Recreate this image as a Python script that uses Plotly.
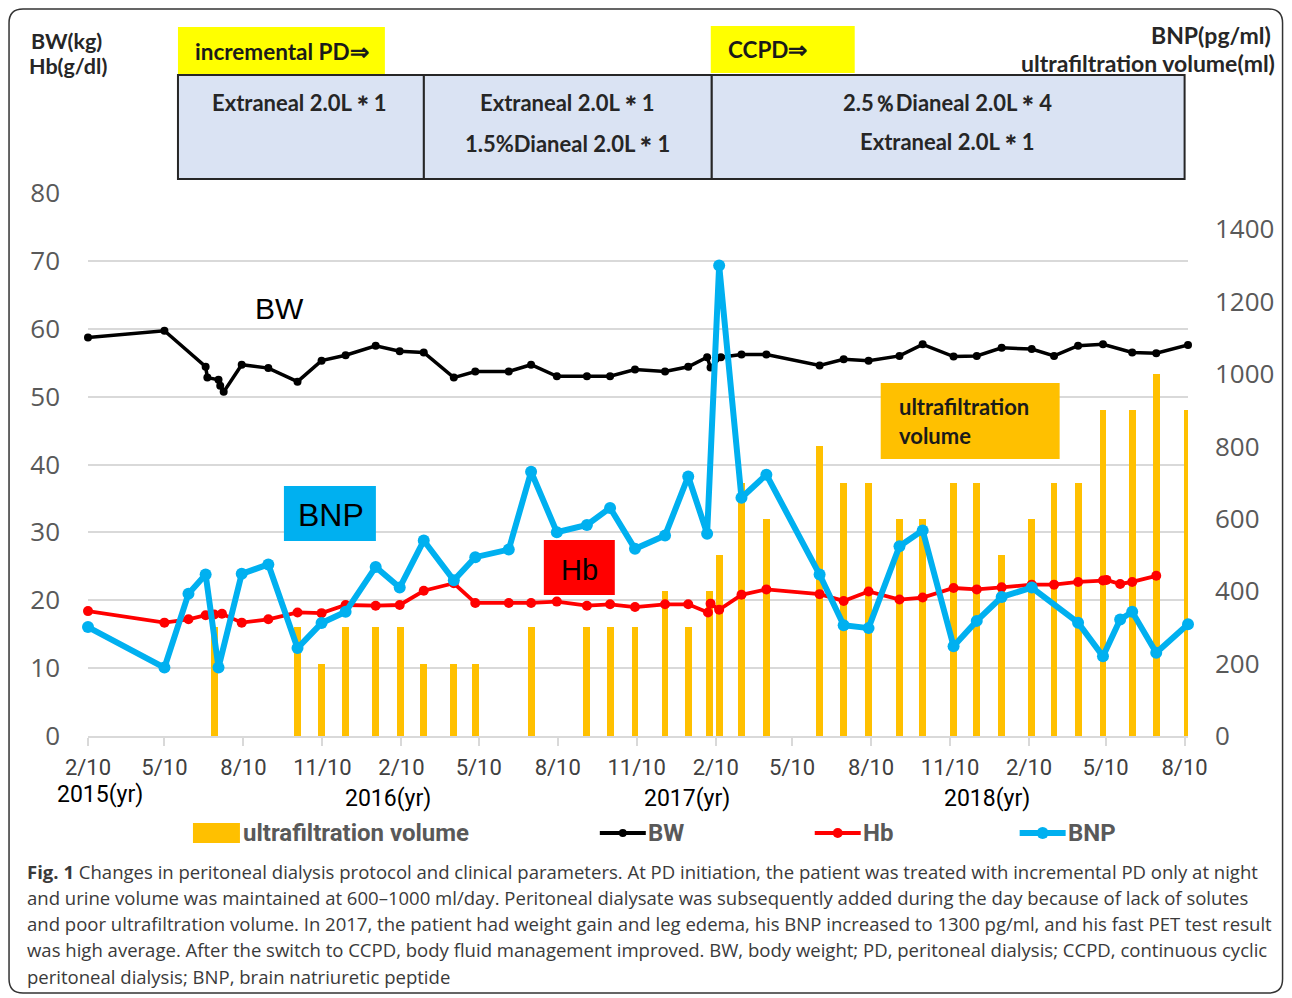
import plotly.graph_objects as go

# ---------------- data ----------------
bw_dates = ["2015-02-10","2015-05-10","2015-06-27","2015-06-29","2015-07-12","2015-07-14","2015-07-18",
            "2015-08-08","2015-09-08","2015-10-12","2015-11-09","2015-12-07","2016-01-11","2016-02-08",
            "2016-03-07","2016-04-11","2016-05-06","2016-06-14","2016-07-10","2016-08-09","2016-09-13",
            "2016-10-10","2016-11-08","2016-12-13","2017-01-09","2017-01-31","2017-02-04","2017-02-16",
            "2017-03-12","2017-04-10","2017-06-11","2017-07-09","2017-08-07","2017-09-12","2017-10-09",
            "2017-11-14","2017-12-11","2018-01-09","2018-02-13","2018-03-11","2018-04-08","2018-05-07",
            "2018-06-10","2018-07-08","2018-08-14"]
bw_values = [58.7, 59.7, 54.4, 52.8, 52.5, 51.6, 50.7, 54.7, 54.2, 52.2, 55.3, 56.1, 57.5, 56.7, 56.5,
             52.8, 53.7, 53.7, 54.7, 53.0, 53.0, 53.0, 54.0, 53.7, 54.4, 55.8, 54.3, 55.8, 56.2, 56.2,
             54.6, 55.5, 55.3, 56.0, 57.7, 55.9, 56.0, 57.2, 57.0, 56.0, 57.5, 57.7, 56.5, 56.4, 57.6]

hb_dates = ["2015-02-10","2015-05-10","2015-06-07","2015-06-27","2015-07-07","2015-07-16","2015-08-08",
            "2015-09-08","2015-10-12","2015-11-09","2015-12-07","2016-01-11","2016-02-08","2016-03-07",
            "2016-04-11","2016-05-06","2016-06-14","2016-07-10","2016-08-09","2016-09-13","2016-10-10",
            "2016-11-08","2016-12-13","2017-01-09","2017-02-01","2017-02-04","2017-02-14","2017-03-12",
            "2017-04-10","2017-06-11","2017-07-09","2017-08-07","2017-09-12","2017-10-09","2017-11-14",
            "2017-12-11","2018-01-09","2018-02-13","2018-03-11","2018-04-08","2018-05-07","2018-05-11",
            "2018-05-27","2018-06-10","2018-07-08"]
hb_values = [18.4, 16.7, 17.2, 17.8, 17.9, 18.0, 16.7, 17.2, 18.2, 18.1, 19.3, 19.2, 19.3, 21.4, 22.5,
             19.6, 19.6, 19.6, 19.8, 19.2, 19.4, 19.0, 19.4, 19.4, 18.2, 19.5, 18.6, 20.8, 21.6, 20.9,
             19.9, 21.3, 20.1, 20.4, 21.8, 21.6, 21.9, 22.3, 22.3, 22.7, 22.9, 23.0, 22.4, 22.7, 23.6]

bnp_dates = ["2015-02-10","2015-05-10","2015-06-07","2015-06-27","2015-07-12","2015-08-08","2015-09-08",
             "2015-10-12","2015-11-09","2015-12-07","2016-01-11","2016-02-08","2016-03-07","2016-04-11",
             "2016-05-06","2016-06-14","2016-07-10","2016-08-09","2016-09-13","2016-10-10","2016-11-08",
             "2016-12-13","2017-01-09","2017-01-31","2017-02-14","2017-03-12","2017-04-10","2017-06-11",
             "2017-07-09","2017-08-07","2017-09-12","2017-10-09","2017-11-14","2017-12-11","2018-01-09",
             "2018-02-13","2018-04-08","2018-05-07","2018-05-27","2018-06-10","2018-07-08","2018-08-14"]
bnp_values = [301, 189, 393, 446, 189, 448, 474, 243, 312, 343, 467, 410, 540, 430, 494, 515, 730, 563,
              583, 630, 517, 554, 717, 559, 1300, 658, 722, 446, 306, 298, 524, 568, 248, 318, 384, 410,
              313, 220, 322, 343, 230, 309]

uf_dates = ["2015-07-07","2015-10-12","2015-11-09","2015-12-07","2016-01-11","2016-02-09","2016-03-07",
            "2016-04-11","2016-05-06","2016-07-10","2016-09-13","2016-10-10","2016-11-08","2016-12-13",
            "2017-01-09","2017-02-03","2017-02-14","2017-03-12","2017-04-10","2017-06-11","2017-07-09",
            "2017-08-07","2017-09-12","2017-10-09","2017-11-14","2017-12-11","2018-01-09","2018-02-13",
            "2018-03-11","2018-04-08","2018-05-07","2018-06-10","2018-07-08","2018-08-13"]
uf_values = [300, 300, 200, 300, 300, 300, 200, 200, 200, 300, 300, 300, 300, 400, 300, 400, 500, 700,
             600, 800, 700, 700, 600, 600, 700, 700, 500, 600, 700, 700, 900, 900, 1000, 900]

tick_dates = ["2015-02-10","2015-05-10","2015-08-10","2015-11-10","2016-02-10","2016-05-10","2016-08-10",
              "2016-11-10","2017-02-10","2017-05-10","2017-08-10","2017-11-10","2018-02-10","2018-05-10",
              "2018-08-10"]
tick_labels = ["2/10","5/10","8/10","11/10","2/10","5/10","8/10","11/10","2/10","5/10","8/10","11/10",
               "2/10","5/10","8/10"]
year_labels = ["2015(yr)", "2016(yr)", "2017(yr)", "2018(yr)"]

caption_lines = [
    "<b>Fig. 1</b> Changes in peritoneal dialysis protocol and clinical parameters. At PD initiation, the patient was treated with incremental PD only at night",
    "and urine volume was maintained at 600–1000 ml/day. Peritoneal dialysate was subsequently added during the day because of lack of solutes",
    "and poor ultrafiltration volume. In 2017, the patient had weight gain and leg edema, his BNP increased to 1300 pg/ml, and his fast PET test result",
    "was high average. After the switch to CCPD, body fluid management improved. BW, body weight; PD, peritoneal dialysis; CCPD, continuous cyclic",
    "peritoneal dialysis; BNP, brain natriuretic peptide",
]

# ---------------- geometry helpers (layout only) ----------------
W, H = 1292, 998
PL, PR, PT, PB = 88, 1188.4, 193, 736


def px(x):
    return (x - PL) / (PR - PL)


def py(y):
    return (PB - y) / (PB - PT)


BLUE = "#00b0f0"
RED = "#ff0000"
ORANGE = "#ffc000"
GRAY_T = "#595959"
NARROW = "Roboto, sans-serif"
BOLDF = "Lato, Open Sans, sans-serif"

fig = go.Figure()

fig.add_trace(go.Bar(x=uf_dates, y=uf_values, name="ultrafiltration volume", marker_color=ORANGE,
                     marker_line_width=0, width=8 * 86400000, yaxis="y", cliponaxis=False))
fig.add_trace(go.Scatter(x=bw_dates, y=bw_values, name="BW", mode="lines+markers",
                         line=dict(color="black", width=3.5), marker=dict(color="black", size=8),
                         yaxis="y2", cliponaxis=False))
fig.add_trace(go.Scatter(x=hb_dates, y=hb_values, name="Hb", mode="lines+markers",
                         line=dict(color=RED, width=3.8), marker=dict(color=RED, size=10),
                         yaxis="y2", cliponaxis=False))
fig.add_trace(go.Scatter(x=bnp_dates, y=bnp_values, name="BNP", mode="lines+markers",
                         line=dict(color=BLUE, width=6), marker=dict(color=BLUE, size=12),
                         yaxis="y3", cliponaxis=False))

shapes = []
annotations = []


def rect(x0, y0, x1, y1, fill, line_color=None, lw=0):
    shapes.append(dict(type="rect", xref="paper", yref="paper", x0=px(x0), x1=px(x1), y0=py(y1), y1=py(y0),
                       fillcolor=fill, line=dict(color=line_color or fill, width=lw), layer="above"))


def text(x, y, s, size, color="black", family=BOLDF, xanchor="center", weight="normal"):
    annotations.append(dict(xref="paper", yref="paper", x=px(x), y=py(y), text=s, showarrow=False,
                            xanchor=xanchor, yanchor="middle",
                            font=dict(size=size, color=color, family=family, weight=weight)))


# outer rounded border
r = 14
x0b, y0b, x1b, y1b = 9, 9, 1283, 993
path = (f"M {px(x0b + r)},{py(y0b)} L {px(x1b - r)},{py(y0b)} Q {px(x1b)},{py(y0b)} {px(x1b)},{py(y0b + r)} "
        f"L {px(x1b)},{py(y1b - r)} Q {px(x1b)},{py(y1b)} {px(x1b - r)},{py(y1b)} "
        f"L {px(x0b + r)},{py(y1b)} Q {px(x0b)},{py(y1b)} {px(x0b)},{py(y1b - r)} "
        f"L {px(x0b)},{py(y0b + r)} Q {px(x0b)},{py(y0b)} {px(x0b + r)},{py(y0b)} Z")
shapes.append(dict(type="path", xref="paper", yref="paper", path=path, line=dict(color="#333333", width=1.5)))

# protocol boxes
rect(178, 27, 385, 75, "#ffff00")
rect(711, 26, 855, 73, "#ffff00")
for a, b in [(178, 424), (424, 712), (712, 1185)]:
    rect(a, 75, b, 179, "#dae3f3", "#262626", 2)
text(193, 51, "incremental PD⇒", 22.5, "#1a1a1a", xanchor="left", weight="bold")
text(726, 49, "CCPD⇒", 22.5, "#1a1a1a", xanchor="left", weight="bold")
text(300, 103, "Extraneal 2.0L＊1", 22, "#262626", weight="bold")
text(568, 103, "Extraneal 2.0L＊1", 22, "#262626", weight="bold")
text(568, 143, "1.5%Dianeal 2.0L＊1", 22, "#262626", weight="bold")
text(948, 102, "2.5％Dianeal 2.0L＊4", 22, "#262626", weight="bold")
text(948, 141, "Extraneal 2.0L＊1", 22, "#262626", weight="bold")

# axis titles
text(29, 41, "BW(kg)", 21.5, "#262626", xanchor="left", weight="bold")
text(27, 66, "Hb(g/dl)", 21.5, "#262626", xanchor="left", weight="bold")
annotations.append(dict(xref="paper", yref="paper", x=px(1273), y=py(35), text="BNP(pg/ml)", showarrow=False,
                        xanchor="right", yanchor="middle", font=dict(size=23, color="#262626", family=BOLDF, weight="bold")))
annotations.append(dict(xref="paper", yref="paper", x=px(1277), y=py(63), text="ultrafiltration volume(ml)",
                        showarrow=False, xanchor="right", yanchor="middle",
                        font=dict(size=23, color="#262626", family=BOLDF, weight="bold")))

# in-plot labels
text(280, 308, "BW", 30, "black", family="Liberation Sans, Arial, sans-serif")
rect(284, 486, 376, 541, BLUE)
text(331, 515, "BNP", 32, "black", family="Liberation Sans, Arial, sans-serif")
rect(544, 540, 615, 595, RED)
text(580, 570, "Hb", 29, "black", family="Liberation Sans, Arial, sans-serif")
rect(881, 383, 1060, 459, ORANGE)
text(897, 406, "ultrafiltration", 22, "#1a1a1a", xanchor="left", weight="bold")
text(897, 435, "volume", 22, "#1a1a1a", xanchor="left", weight="bold")

# year labels
for (xx, yy), s in zip([(100, 794), (388, 798), (687, 798), (987, 798)], year_labels):
    text(xx, yy, s, 23, "black", family=NARROW)

# manual legend
rect(193, 823, 240, 843, ORANGE)
text(241, 833, "ultrafiltration volume", 24, GRAY_T, family=NARROW, xanchor="left", weight="bold")
for (lx, col, lw, mr, lab) in [(600, "black", 4, 4, "BW"), (815, RED, 4, 5, "Hb"), (1020, BLUE, 6, 6, "BNP")]:
    shapes.append(dict(type="line", xref="paper", yref="paper", x0=px(lx), x1=px(lx + 46), y0=py(833), y1=py(833),
                       line=dict(color=col, width=lw)))
    cx = lx + 23
    shapes.append(dict(type="circle", xref="paper", yref="paper", x0=px(cx - mr), x1=px(cx + mr),
                       y0=py(833 + mr), y1=py(833 - mr), fillcolor=col, line=dict(color=col, width=0)))
    text(lx + 46, 833, lab, 24, GRAY_T, family=NARROW, xanchor="left", weight="bold")

# caption
for i, line in enumerate(caption_lines):
    annotations.append(dict(xref="paper", yref="paper", x=px(25), y=py(871 + i * 26.3), text=line,
                            showarrow=False, xanchor="left", yanchor="middle",
                            font=dict(size=18.55, color="#3a3a3a", family="Open Sans, sans-serif")))

fig.update_layout(
    width=W, height=H,
    margin=dict(l=PL, r=W - PR, t=PT, b=H - PB, pad=0),
    paper_bgcolor="white", plot_bgcolor="white",
    showlegend=False,
    bargap=0,
    xaxis=dict(type="date", range=["2015-02-10", "2018-08-14"], tickmode="array", tickvals=tick_dates,
               ticktext=tick_labels, showgrid=False, showline=True, linecolor="#d9d9d9", linewidth=1.5,
               ticks="outside", ticklen=8, tickcolor="#d9d9d9", tickwidth=1.5, ticklabelstandoff=3,
               tickfont=dict(size=22, color="#404040", family=NARROW), zeroline=False),
    yaxis=dict(range=[0, 1500], tickvals=[0, 200, 400, 600, 800, 1000, 1200, 1400], side="right",
               showgrid=False, zeroline=False, showline=False, ticklabelstandoff=26,
               tickfont=dict(size=26, color=GRAY_T, family="Open Sans, sans-serif")),
    yaxis2=dict(range=[0, 80], dtick=10, overlaying="y", side="left", showgrid=True, gridcolor="#d9d9d9",
                gridwidth=1.5, zeroline=False, showline=False, ticklabelstandoff=27,
                tickfont=dict(size=26, color=GRAY_T, family="Open Sans, sans-serif")),
    yaxis3=dict(range=[0, 1500], overlaying="y", side="right", visible=False, showgrid=False),
    shapes=shapes,
    annotations=annotations,
)

fig.write_html("out.html", config={"displayModeBar": False},
               post_script="document.body.style.margin='0';document.body.style.overflow='hidden';")
